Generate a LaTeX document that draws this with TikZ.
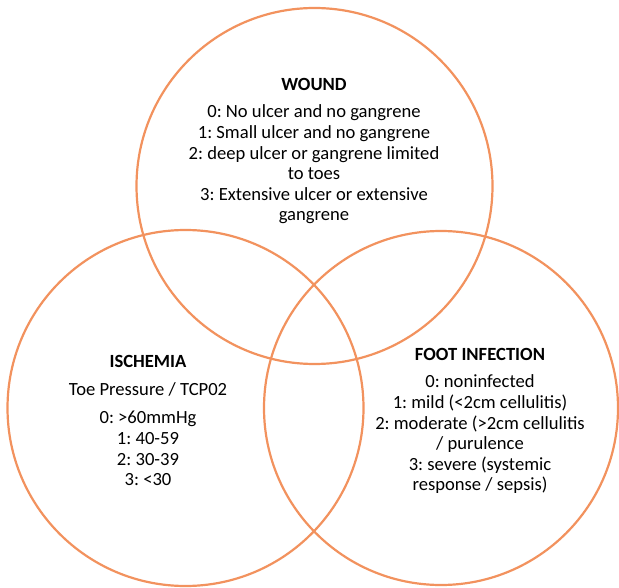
\documentclass[tikz,border=0pt]{standalone}
\usepackage{fontspec}
\setmainfont{Carlito}
\definecolor{vennorange}{RGB}{242,146,94}
\frenchspacing
\begin{document}
\begin{tikzpicture}[x=1pt,y=-1pt,
  venn/.style={draw=vennorange,line width=2.2pt},
  ttl/.style={font=\fontsize{18.6}{20.6}\selectfont\bfseries,inner sep=0pt},
  body/.style={font=\fontsize{18.6}{20.6}\selectfont,align=center,inner sep=0pt}]
\useasboundingbox (0,0) rectangle (619,588);
\draw[venn] (314.5,186) circle[radius=178];
\draw[venn] (185.5,408) circle[radius=178];
\draw[venn] (441,408) circle[radius=177];
\node[ttl] (wt) at (314,84) {WOUND};
\node[body] (wb) at (314,164.5) {0: No ulcer and no gangrene\\1: Small ulcer and no gangrene\\2: deep ulcer or gangrene limited\\to toes\\3: Extensive ulcer or extensive\\gangrene};
\node[ttl] (it) at (148,361) {ISCHEMIA};
\node[body] (is) at (148,389) {Toe Pressure / TCP02};
\node[body] (ib) at (148,448.5) {0: >60mmHg\\1: 40-59\\2: 30-39\\3: <30};
\node[ttl] (ft) at (480,354) {FOOT INFECTION};
\node[body] (fb) at (480,434.5) {0: noninfected\\1: mild (<2cm cellulitis)\\2: moderate (>2cm cellulitis\\/ purulence\\3: severe (systemic\\response / sepsis)};
\end{tikzpicture}
\end{document}
